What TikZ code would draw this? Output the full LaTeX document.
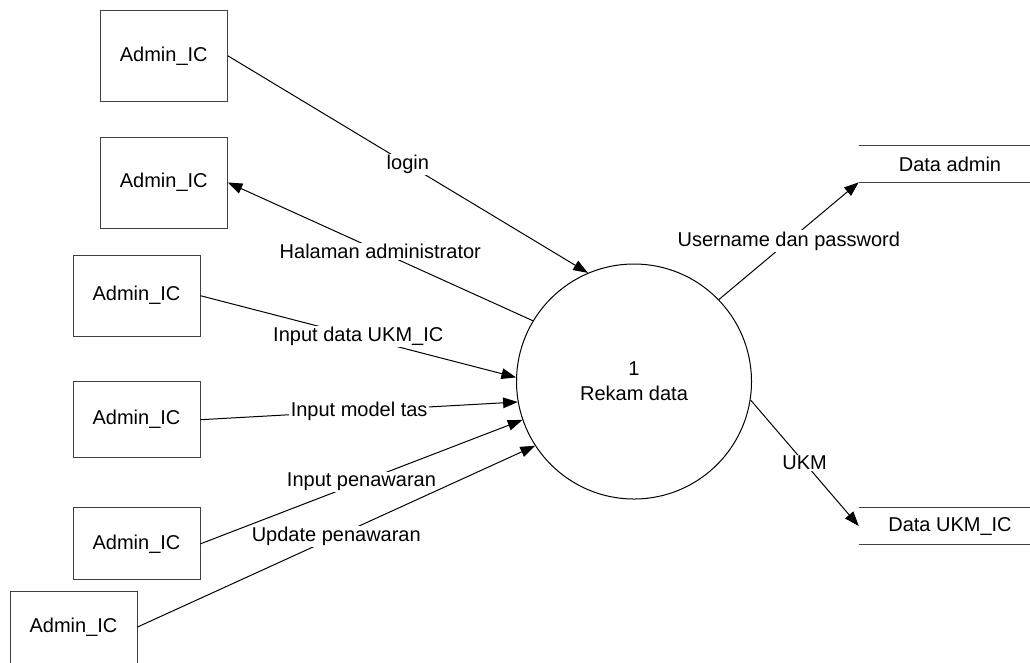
\documentclass[tikz,border=0pt]{standalone}
\usepackage{fontspec}
\setmainfont{Liberation Sans}
\usetikzlibrary{arrows.meta}
\begin{document}
\begin{tikzpicture}[x=0.75pt,y=-0.75pt,
  every node/.style={font=\fontsize{15pt}{18.75pt}\selectfont},
  ent/.style={draw=black!75, line width=0.75pt, minimum width=95.25pt, inner sep=0pt},
  proc/.style={circle, draw, line width=0.75pt, minimum size=176.25pt, align=center, inner sep=0pt},
  store/.style={minimum width=136.5pt, minimum height=27pt, inner sep=0pt},
  flow/.style={line width=0.75pt, -{Triangle[length=11pt,width=8pt]}},
  lbl/.style={fill=white, inner sep=1pt}]
\useasboundingbox (0,0) rectangle (1030,662);
\clip (0,0) rectangle (1030,662);
% external entities
\node[ent, minimum height=67.9pt]  (b1) at (163.75,55.75) {Admin\_IC};
\node[ent, minimum height=68.25pt] (b2) at (163.75,182.5) {Admin\_IC};
\node[ent, minimum height=60.5pt]  (b3) at (136.5,295.7) {Admin\_IC};
\node[ent, minimum height=57pt]    (b4) at (136.5,419.7) {Admin\_IC};
\node[ent, minimum height=54.2pt]  (b5) at (136.5,543.8) {Admin\_IC};
\node[ent, minimum height=54pt]    (b6) at (73.5,627) {Admin\_IC};
% process
\node[proc] (p) at (634,381.5) {1\\Rekam data};
% data stores
\node[store] (da) at (950,164) {Data admin};
\node[store] (du) at (950,526) {Data UKM\_IC};
\draw[black!75, line width=0.75pt] (da.north west) -- (da.north east) (da.south west) -- (da.south east);
\draw[black!75, line width=0.75pt] (du.north west) -- (du.north east) (du.south west) -- (du.south east);
% flows
\draw[flow] (b1.east) -- node[lbl]{login} (p.113);
\draw[flow] (p.149.7) -- node[lbl]{Halaman administrator} (b2.east);
\draw[flow] (b3.east) -- node[lbl]{Input data UKM\_IC} (p.178.3);
\draw[flow] (b4.east) -- node[lbl]{Input model tas} (p.190.9);
\draw[flow] (b5.east) -- node[lbl]{Input penawaran} (p.199);
\draw[flow] (b6.east) -- node[lbl]{Update penawaran} (p.213.9);
\draw[flow] (p.44.8) -- node[lbl]{Username dan password} (da.south west);
\draw[flow] (p.-9.9) -- node[lbl]{UKM} (du.west);
\end{tikzpicture}
\end{document}
